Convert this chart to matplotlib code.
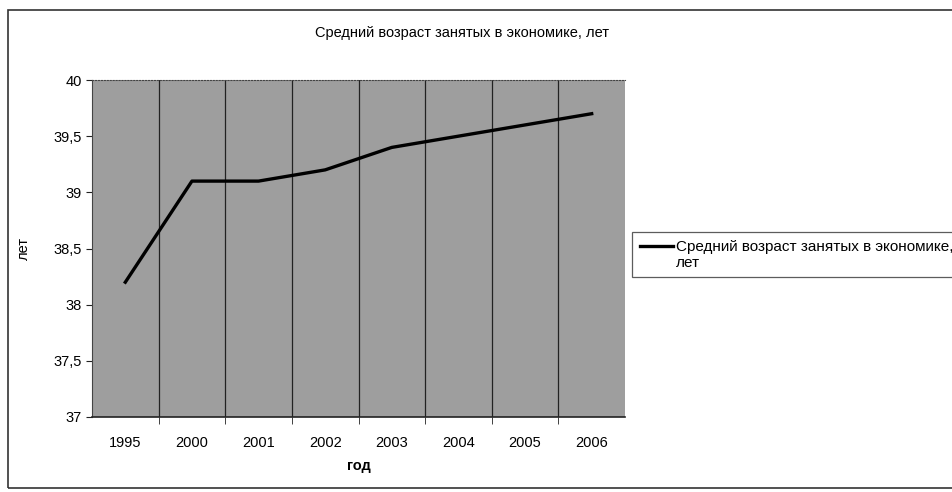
import matplotlib
matplotlib.use("Agg")
import matplotlib.pyplot as plt
from matplotlib.patches import Rectangle
from matplotlib.ticker import FuncFormatter, MultipleLocator

years = ['1995', '2000', '2001', '2002', '2003', '2004', '2005', '2006']
age = [38.2, 39.1, 39.1, 39.2, 39.4, 39.5, 39.6, 39.7]
title = 'Средний возраст занятых в экономике, лет'

plt.rcParams['font.family'] = ['Liberation Sans', 'DejaVu Sans']

fig = plt.figure(figsize=(9.53, 4.92), dpi=100)
fig.patch.set_facecolor('white')

# chart frame (right edge runs off the picture)
fig.patches.append(Rectangle((8/953, 4/492), 1.2, 478/492, transform=fig.transFigure,
                             fill=False, edgecolor='#333333', linewidth=1.2))

ax = fig.add_axes([92/953, 1-417/492, 533/953, 337/492])
ax.set_facecolor('#9e9e9e')

x = list(range(len(years)))
ax.plot(x, age, color='black', linewidth=2.4, label='Средний возраст занятых в экономике,\nлет')

ax.set_xlim(-0.5, len(years) - 0.5)
ax.set_ylim(37, 40)
ax.yaxis.set_major_locator(MultipleLocator(0.5))
ax.yaxis.set_major_formatter(FuncFormatter(lambda v, p: ('%g' % v).replace('.', ',')))

ax.set_xticks(x)
ax.set_xticklabels(years)
ax.tick_params(axis='x', length=0, pad=14, labelsize=10.5)
ax.set_xticks([i + 0.5 for i in x[:-1]], minor=True)
ax.tick_params(axis='x', which='minor', length=5, direction='out', color='#222222')
ax.grid(axis='x', which='minor', color='#222222', linewidth=0.9)
ax.tick_params(axis='y', length=4, labelsize=10.5, color='#222222')

for s in ax.spines.values():
    s.set_visible(False)
ax.spines['left'].set_visible(True)
ax.spines['bottom'].set_visible(True)
ax.spines['left'].set_color('#444444')
ax.spines['bottom'].set_color('#222222')
ax.spines['bottom'].set_linewidth(1.2)
ax.spines['top'].set_visible(True)
ax.spines['top'].set_linestyle(':')
ax.spines['top'].set_color('#444444')

ax.set_ylabel('лет', fontsize=10.5, labelpad=16)
ax.set_xlabel('год', fontsize=10.5, fontweight='bold', labelpad=6)

fig.text(462/953, 1-33/492, title, ha='center', va='center', fontsize=10.5)

leg = ax.legend(loc='upper left', bbox_to_anchor=(632/953, 1-232/492), bbox_transform=fig.transFigure,
                frameon=True, fancybox=False, fontsize=11, handlelength=2.2, handletextpad=0.2,
                borderpad=0.5, borderaxespad=0)
leg.get_frame().set_edgecolor('#333333')
leg.get_frame().set_linewidth(0.9)
# put the legend line level with the first text line
hl = leg.legend_handles[0]
hl.set_ydata([v + 6.5 for v in hl.get_ydata()])

fig.savefig('out.png', dpi=100)
